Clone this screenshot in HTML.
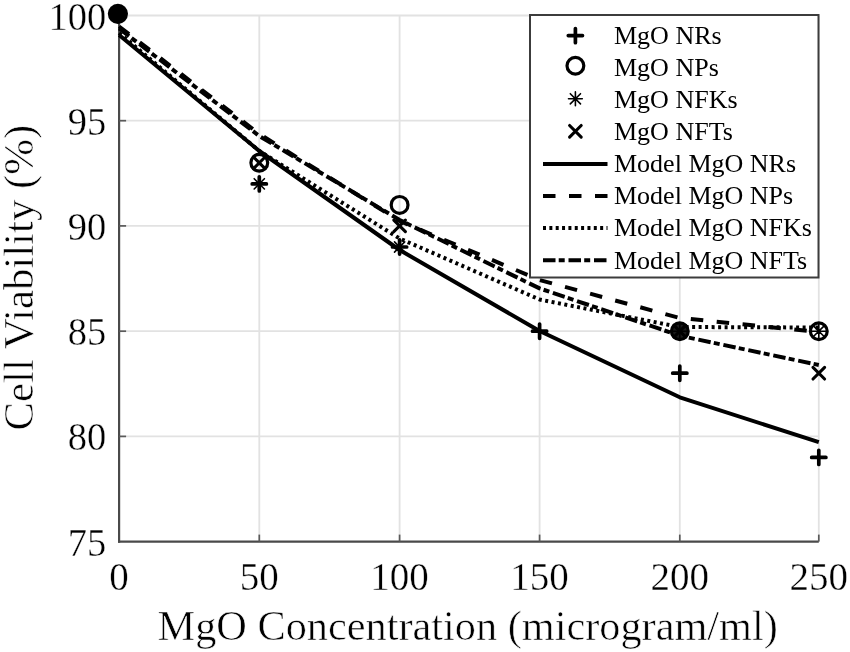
<!DOCTYPE html>
<html><head><meta charset="utf-8"><style>
html,body{margin:0;padding:0;background:#fff;}
svg{display:block;filter:grayscale(1);}
text{font-family:"Liberation Serif",serif;fill:#000;}
.thin text{stroke:#fff;stroke-width:0.35px;paint-order:fill;}
text.thin{stroke:#fff;stroke-width:0.55px;paint-order:fill;}
</style></head><body>
<svg width="850" height="652" viewBox="0 0 850 652">
<rect width="850" height="652" fill="#fff"/>
<g stroke="#e2e2e2" stroke-width="1.8"><line x1="259.3" y1="15.5" x2="259.3" y2="541.6"/><line x1="399.6" y1="15.5" x2="399.6" y2="541.6"/><line x1="539.6" y1="15.5" x2="539.6" y2="541.6"/><line x1="679.8" y1="15.5" x2="679.8" y2="541.6"/><line x1="818.8" y1="15.5" x2="818.8" y2="541.6"/><line x1="119.1" y1="15.5" x2="818.8" y2="15.5"/><line x1="119.1" y1="120.7" x2="818.8" y2="120.7"/><line x1="119.1" y1="225.9" x2="818.8" y2="225.9"/><line x1="119.1" y1="331.2" x2="818.8" y2="331.2"/><line x1="119.1" y1="436.4" x2="818.8" y2="436.4"/></g>
<g stroke="#4a4a4a" stroke-width="2.2"><line x1="119.1" y1="15.5" x2="119.1" y2="542.7"/><line x1="118.0" y1="541.6" x2="818.8" y2="541.6"/></g>
<g stroke="#5a5a5a" stroke-width="1.7"><line x1="119.1" y1="15.5" x2="126.1" y2="15.5"/><line x1="119.1" y1="120.7" x2="126.1" y2="120.7"/><line x1="119.1" y1="225.9" x2="126.1" y2="225.9"/><line x1="119.1" y1="331.2" x2="126.1" y2="331.2"/><line x1="119.1" y1="436.4" x2="126.1" y2="436.4"/><line x1="259.3" y1="541.6" x2="259.3" y2="534.6"/><line x1="399.6" y1="541.6" x2="399.6" y2="534.6"/><line x1="539.6" y1="541.6" x2="539.6" y2="534.6"/><line x1="679.8" y1="541.6" x2="679.8" y2="534.6"/><line x1="818.8" y1="541.6" x2="818.8" y2="534.6"/></g>
<g class="thin"><text transform="translate(106.2,29.5) scale(1,1.05)" text-anchor="end" font-size="38.5">100</text><text transform="translate(106.2,134.7) scale(1,1.05)" text-anchor="end" font-size="38.5">95</text><text transform="translate(106.2,239.9) scale(1,1.05)" text-anchor="end" font-size="38.5">90</text><text transform="translate(106.2,345.2) scale(1,1.05)" text-anchor="end" font-size="38.5">85</text><text transform="translate(106.2,450.4) scale(1,1.05)" text-anchor="end" font-size="38.5">80</text><text transform="translate(106.2,555.6) scale(1,1.05)" text-anchor="end" font-size="38.5">75</text><text x="119.1" y="589.6" text-anchor="middle" font-size="39">0</text><text x="259.3" y="589.6" text-anchor="middle" font-size="39">50</text><text x="399.6" y="589.6" text-anchor="middle" font-size="39">100</text><text x="539.6" y="589.6" text-anchor="middle" font-size="39">150</text><text x="679.8" y="589.6" text-anchor="middle" font-size="39">200</text><text x="818.8" y="589.6" text-anchor="middle" font-size="39">250</text></g>
<text class="thin" x="467.7" y="639.5" font-size="42.3" text-anchor="middle">MgO Concentration (microgram/ml)</text>
<text class="thin" transform="translate(33.3,277.7) rotate(-90)" font-size="42.8" text-anchor="middle">Cell Viability (%)</text>
<g fill="none" stroke="#000" stroke-width="4" stroke-linejoin="round"><polyline points="119.1,35.0 259.3,151.0 399.6,250.0 539.6,331.0 679.8,397.3 818.8,442.2"/><polyline points="119.1,26.5 259.3,134.0 399.6,221.0 539.6,280.0 679.8,318.0 818.8,332.0" stroke-dasharray="12.5 13.5"/><polyline points="119.1,33.0 259.3,151.0 399.6,238.5 539.6,299.5 679.8,327.0 818.8,327.5" stroke-dasharray="3 3.5"/><polyline points="119.1,28.5 259.3,136.0 399.6,220.0 539.6,288.4 679.8,335.7 818.8,365.0" stroke-dasharray="12.5 3.2 6 3.8"/></g>
<g fill="none" stroke="#000"><circle cx="117.9" cy="13.8" r="10.1" fill="#000" stroke="none"/><circle cx="679.8" cy="331.2" r="8" fill="#1a1a1a" stroke="none"/><path d="M252.2 183.9H266.4M259.3 176.8V191.0" stroke-width="3.7" stroke-linecap="round"/><path d="M392.5 247.0H406.7M399.6 239.9V254.1" stroke-width="3.7" stroke-linecap="round"/><path d="M532.5 331.2H546.7M539.6 324.1V338.3" stroke-width="3.7" stroke-linecap="round"/><path d="M672.7 373.2H686.9M679.8 366.1V380.3" stroke-width="3.7" stroke-linecap="round"/><path d="M811.7 457.4H825.9M818.8 450.3V464.5" stroke-width="3.7" stroke-linecap="round"/><circle cx="259.3" cy="162.8" r="8.4" stroke-width="3.2"/><circle cx="399.6" cy="204.9" r="8.4" stroke-width="3.2"/><circle cx="679.8" cy="331.2" r="8.4" stroke-width="3.2"/><circle cx="818.8" cy="331.2" r="8.4" stroke-width="3.2"/><path d="M252.4 183.9H266.2M259.3 177.0V190.8M254.2 178.7L264.4 189.0M254.2 189.0L264.4 178.7" stroke-width="1.6" stroke-linecap="round"/><path d="M392.7 247.0H406.5M399.6 240.1V253.9M394.5 241.9L404.7 252.1M394.5 252.1L404.7 241.9" stroke-width="1.6" stroke-linecap="round"/><path d="M672.9 331.2H686.7M679.8 324.3V338.1M674.7 326.1L684.9 336.3M674.7 336.3L684.9 326.1" stroke-width="1.6" stroke-linecap="round"/><path d="M811.9 331.2H825.7M818.8 324.3V338.1M813.7 326.1L823.9 336.3M813.7 336.3L823.9 326.1" stroke-width="1.6" stroke-linecap="round"/><path d="M253.5 157.0L265.1 168.6M253.5 168.6L265.1 157.0" stroke-width="3.1" stroke-linecap="round"/><path d="M393.8 220.1L405.4 231.7M393.8 231.7L405.4 220.1" stroke-width="3.1" stroke-linecap="round"/><path d="M674.0 325.4L685.6 337.0M674.0 337.0L685.6 325.4" stroke-width="3.1" stroke-linecap="round"/><path d="M813.0 367.4L824.6 379.0M813.0 379.0L824.6 367.4" stroke-width="3.1" stroke-linecap="round"/></g>
<rect x="530" y="15" width="288.5" height="262.5" fill="#fff" stroke="#3c3c3c" stroke-width="2"/>
<g font-size="26"><text x="614" y="43.8">MgO NRs</text><text x="614" y="75.9">MgO NPs</text><text x="614" y="108.0">MgO NFKs</text><text x="614" y="140.1">MgO NFTs</text><text x="614" y="172.2">Model MgO NRs</text><text x="614" y="204.3">Model MgO NPs</text><text x="614" y="236.4">Model MgO NFKs</text><text x="614" y="268.5">Model MgO NFTs</text></g>
<g fill="none" stroke="#000"><path d="M568.3 35.6H582.5M575.4 28.5V42.7" stroke-width="3.7" stroke-linecap="round"/><circle cx="575.4" cy="65.8" r="8.4" stroke-width="3.2"/><path d="M568.5 98.8H582.3M575.4 91.9V105.7M570.3 93.7L580.5 103.9M570.3 103.9L580.5 93.7" stroke-width="1.6" stroke-linecap="round"/><path d="M569.6 125.5L581.2 137.1M569.6 137.1L581.2 125.5" stroke-width="3.1" stroke-linecap="round"/></g>
<g stroke="#000" stroke-width="4"><line x1="543" y1="163.9" x2="607.5" y2="163.9"/><line x1="543" y1="196.0" x2="607.5" y2="196.0" stroke-dasharray="12.5 13.5"/><line x1="543" y1="228.1" x2="607.5" y2="228.1" stroke-dasharray="3 3.35"/><line x1="543" y1="260.2" x2="607.5" y2="260.2" stroke-dasharray="12.5 3.2 6 3.8"/></g>
</svg>
</body></html>
